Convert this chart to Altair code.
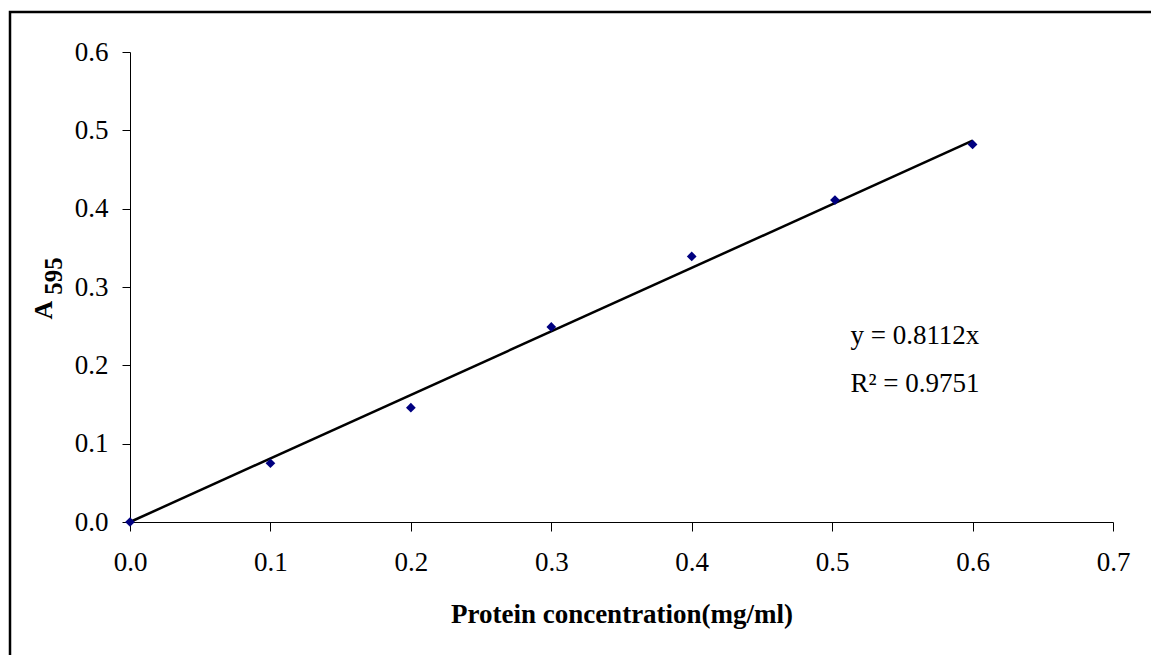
import altair as alt
import pandas as pd

# Data
conc = [0.0, 0.1, 0.2, 0.3, 0.4, 0.502, 0.6]
absorb = [0.0, 0.075, 0.146, 0.249, 0.339, 0.411, 0.482]
slope = 0.8112
r2 = 0.9751
x_ticks = [0.0, 0.1, 0.2, 0.3, 0.4, 0.5, 0.6, 0.7]
y_ticks = [0.0, 0.1, 0.2, 0.3, 0.4, 0.5, 0.6]

pts = pd.DataFrame({"x": conc, "y": absorb})
trend = pd.DataFrame({"x": [0.0, 0.6], "y": [0.0, slope * 0.6]})
ann = pd.DataFrame({
    "x": [0.513, 0.513],
    "y": [0.238, 0.176],
    "t": [f"y = {slope}x", f"R\u00b2 = {r2}"],
})

FONT = "Liberation Serif"

xscale = alt.Scale(domain=[0, 0.7], nice=False, zero=False)
yscale = alt.Scale(domain=[0, 0.6], nice=False, zero=False)

xaxis = alt.Axis(
    values=x_ticks, format=".1f", grid=False,
    title="Protein concentration(mg/ml)",
    titleFont=FONT, titleFontSize=27, titleFontWeight="bold", titleColor="black",
    titleY=92, titleBaseline="middle", titleAnchor="middle",
    labelFont=FONT, labelFontSize=27, labelColor="black", labelPadding=18,
    labelBaseline="top", labelFlush=False, labelOverlap=False,
    tickSize=9, tickColor="black", domainColor="black", domainWidth=1,
)
yaxis = alt.Axis(
    values=y_ticks, format=".1f", grid=False, title=None,
    labelFont=FONT, labelFontSize=27, labelColor="black", labelPadding=14,
    labelOverlap=False, labelFlush=False,
    tickSize=8, tickColor="black", domainColor="black", domainWidth=1,
)

border = alt.Chart(pd.DataFrame({"a": [0]})).mark_rect(
    fill=None, stroke="black", strokeWidth=2.5, clip=False
).encode(
    x=alt.value(-120), x2=alt.value(1031), y=alt.value(-40), y2=alt.value(613)
)

line = alt.Chart(trend).mark_line(color="black", strokeWidth=2.5).encode(
    x=alt.X("x:Q", scale=xscale, axis=xaxis),
    y=alt.Y("y:Q", scale=yscale, axis=yaxis),
)

points = alt.Chart(pts).mark_point(
    shape="diamond", filled=True, color="#000080", size=95, opacity=1
).encode(x=alt.X("x:Q", scale=xscale), y=alt.Y("y:Q", scale=yscale))

text = alt.Chart(ann).mark_text(
    font=FONT, fontSize=27, align="left", baseline="middle", color="black"
).encode(x=alt.X("x:Q", scale=xscale), y=alt.Y("y:Q", scale=yscale), text="t:N")

ytitle_a = alt.Chart(pd.DataFrame({"t": ["A"]})).mark_text(
    font=FONT, fontSize=26, fontWeight="bold", angle=270,
    align="center", baseline="middle", color="black"
).encode(x=alt.value(-86), y=alt.value(258), text="t:N")

ytitle_sub = alt.Chart(pd.DataFrame({"t": ["595"]})).mark_text(
    font=FONT, fontSize=25, fontWeight="bold", angle=270,
    align="center", baseline="middle", color="black"
).encode(x=alt.value(-76), y=alt.value(224), text="t:N")

chart = alt.layer(border, line, points, text, ytitle_a, ytitle_sub).properties(
    width=983, height=470,
    padding={"left": 130, "top": 52, "right": 38, "bottom": 133},
    autosize=alt.AutoSizeParams(type="none"),
    background="white",
).configure_view(stroke=None)

chart.save("out.html", embed_options={"renderer": "svg", "actions": False})
